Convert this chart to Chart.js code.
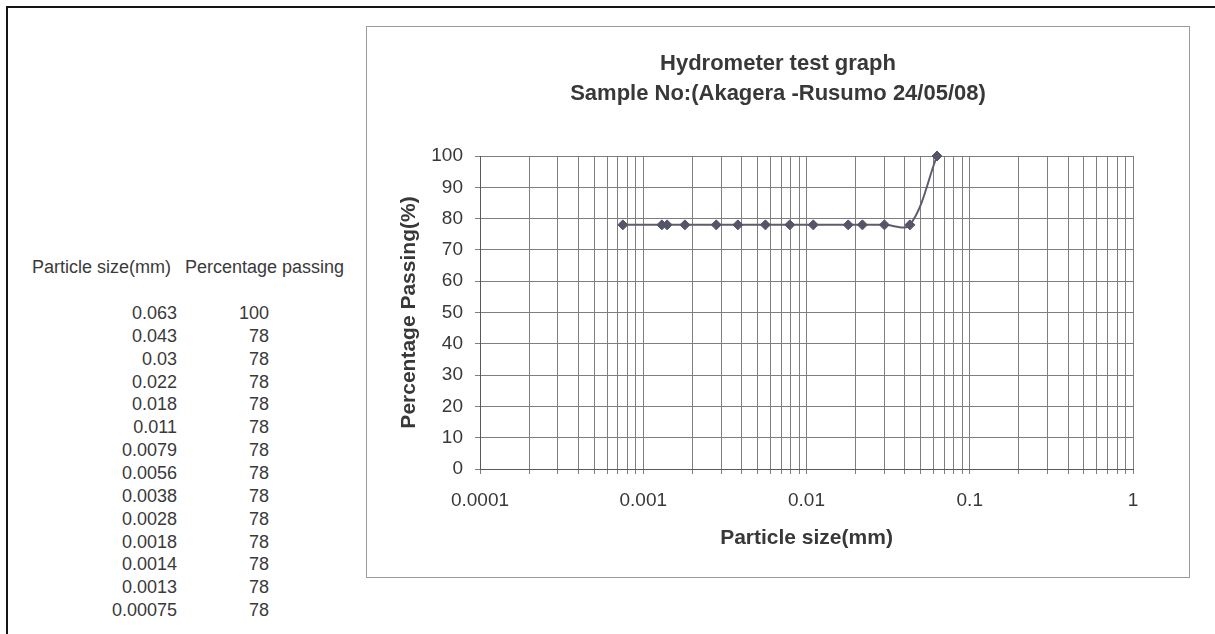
<!DOCTYPE html>
<html>
<head>
<meta charset="utf-8">
<script src="https://cdn.jsdelivr.net/npm/chart.js@4.4.1/dist/chart.umd.min.js"></script>
<style>
  html, body { margin:0; padding:0; background:#fff; width:1215px; height:634px; overflow:hidden;
    font-family:"Liberation Sans", Arial, sans-serif; color:#3a3a3a; }
  #frame { position:absolute; left:6px; top:6px; width:1230px; height:660px;
    border-top:2px solid #151515; border-left:2px solid #151515; }
  .t { position:absolute; font-size:18px; line-height:22px; white-space:nowrap; }
  #box { position:absolute; left:366px; top:26px; width:822px; height:550px; border:1px solid #9a9a9a; }
</style>
</head>
<body>
<div id="frame"></div>
<div id="table"></div>
<div id="box"><canvas id="c"></canvas></div>
<script>
// ---- data ----
const sizes   = [0.063, 0.043, 0.03, 0.022, 0.018, 0.011, 0.0079, 0.0056, 0.0038, 0.0028, 0.0018, 0.0014, 0.0013, 0.00075];
const passing = [100, 78, 78, 78, 78, 78, 78, 78, 78, 78, 78, 78, 78, 78];
const tableHeaders = ["Particle size(mm)", "Percentage passing"];
const xDecades = [0.0001, 0.001, 0.01, 0.1, 1];
const xTickLabels = ["0.0001", "0.001", "0.01", "0.1", "1"];
const yTickValues = [0, 10, 20, 30, 40, 50, 60, 70, 80, 90, 100];
const titleLines = ["Hydrometer test graph", "Sample No:(Akagera -Rusumo 24/05/08)"];
const xTitle = "Particle size(mm)";
const yTitle = "Percentage Passing(%)";

// ---- side table ----
const tbl = document.getElementById('table');
function addText(txt, left, top, width, align) {
  const d = document.createElement('div');
  d.className = 't';
  d.textContent = txt;
  d.style.left = left + 'px';
  d.style.top = top + 'px';
  if (width) { d.style.width = width + 'px'; d.style.textAlign = align; }
  tbl.appendChild(d);
}
addText(tableHeaders[0], 32, 256);
addText(tableHeaders[1], 185, 256);
sizes.forEach((s, i) => {
  const top = 302 + i * 22.85;
  addText(String(s), 0, top, 177, 'right');
  addText(String(passing[i]), 0, top, 269, 'right');
});

// ---- chart ----
const gridTicks = [];
xDecades.forEach((d, i) => {
  if (i < xDecades.length - 1) { for (let m = 1; m <= 9; m++) gridTicks.push(d * m); }
  else gridTicks.push(d);
});

const textColor = '#383838';
const gridColor = '#7e7e7e';
const FONT = '"Liberation Sans", Arial, sans-serif';

new Chart(document.getElementById('c'), {
  type: 'scatter',
  data: {
    datasets: [{
      data: sizes.map((s, i) => ({ x: s, y: passing[i] })),
      showLine: true,
      tension: 0.35,
      clip: false,
      borderColor: '#5d5d6e',
      borderWidth: 2,
      pointStyle: 'rectRot',
      pointRadius: 5,
      pointBackgroundColor: '#55556a',
      pointBorderColor: '#55556a',
      pointBorderWidth: 1
    }]
  },
  options: {
    responsive: true,
    maintainAspectRatio: false,
    animation: false,
    layout: { padding: { left: 0, right: 0, top: 0, bottom: 0 } },
    plugins: {
      legend: { display: false },
      tooltip: { enabled: false },
      title: {
        display: true,
        text: titleLines,
        color: textColor,
        font: { family: FONT, size: 22, weight: 'bold', lineHeight: 30 / 22 },
        padding: { top: 22, bottom: 47 }
      }
    },
    scales: {
      x: {
        type: 'logarithmic',
        min: 0.0001,
        max: 1,
        afterBuildTicks: (scale) => { scale.ticks = gridTicks.map(v => ({ value: v })); },
        afterFit: (scale) => { scale.height = 108; },
        ticks: {
          autoSkip: false,
          maxRotation: 0,
          color: textColor,
          font: { family: FONT, size: 19 },
          padding: 15,
          callback: (v) => {
            const idx = xDecades.findIndex(d => Math.abs(d - v) / d < 1e-6);
            return idx >= 0 ? xTickLabels[idx] : '';
          }
        },
        grid: { color: gridColor, lineWidth: 1, tickLength: 5, drawTicks: true },
        border: { display: true, color: '#5a5a5a', width: 1 },
        title: {
          display: true, text: xTitle, color: textColor,
          font: { family: FONT, size: 21, weight: 'bold' },
          padding: { top: 0, bottom: 26 }
        }
      },
      y: {
        type: 'linear',
        position: 'left',
        min: 0,
        max: 100,
        afterBuildTicks: (scale) => { scale.ticks = yTickValues.map(v => ({ value: v })); },
        afterFit: (scale) => { scale.width = 113; },
        ticks: {
          color: textColor,
          font: { family: FONT, size: 19 },
          padding: 12
        },
        grid: { color: gridColor, lineWidth: 1, tickLength: 5, drawTicks: true },
        border: { display: true, color: '#5a5a5a', width: 1 },
        title: {
          display: true, text: yTitle, color: textColor,
          font: { family: FONT, size: 21, weight: 'bold' },
          padding: { top: 30, bottom: 0 }
        }
      },
      yRight: {
        type: 'linear',
        position: 'right',
        min: 0, max: 100,
        afterFit: (scale) => { scale.width = 56; },
        ticks: { display: false },
        grid: { display: false, drawOnChartArea: false },
        border: { display: false }
      }
    }
  }
});
</script>
</body>
</html>
